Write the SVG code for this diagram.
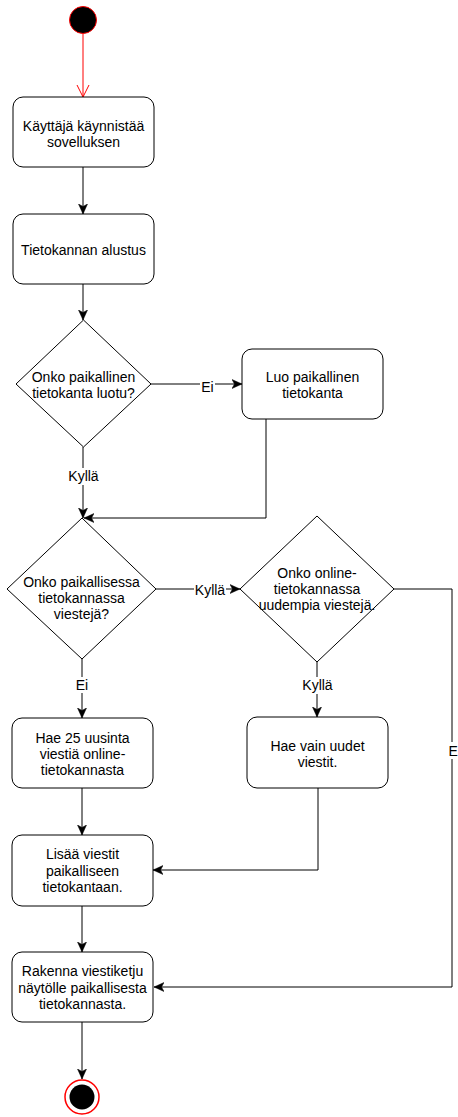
<svg xmlns="http://www.w3.org/2000/svg" width="458" height="1117" viewBox="0 0 458 1117">
<style>
.n{fill:#fff;stroke:#000;stroke-width:1}
.t{font-family:"Liberation Sans",Arial,sans-serif;font-size:14px;fill:#000;text-anchor:middle}
.e{fill:none;stroke:#000;stroke-width:1}
.lb{fill:#fff}
</style>
<defs>
<marker id="a" markerUnits="userSpaceOnUse" markerWidth="12" markerHeight="10" refX="10" refY="5" orient="auto">
<path d="M0,0.5 L10,5 L0,9.5 L2.5,5 z" fill="#000" stroke="#000" stroke-width="0.5"/>
</marker>
<marker id="o" markerUnits="userSpaceOnUse" markerWidth="14" markerHeight="14" refX="12" refY="7" orient="auto">
<path d="M0,1 L12,7 L0,13" fill="none" stroke="#ff0000" stroke-width="1"/>
</marker>
</defs>
<g id="connectors">
<path d="M83,34 V97" fill="none" stroke="#ff0000" stroke-width="1" marker-end="url(#o)"/>
<path class="e" d="M83,167 V214" marker-end="url(#a)"/>
<path class="e" d="M83,284 V320" marker-end="url(#a)"/>
<path class="e" d="M151,384 H242" marker-end="url(#a)"/>
<rect class="lb" x="200" y="379" width="15" height="15"/>
<text class="t" x="207.5" y="392">Ei</text>
<path class="e" d="M83,447 V518" marker-end="url(#a)"/>
<rect class="lb" x="67" y="468" width="33" height="17"/>
<text class="t" x="83.5" y="481">Kyllä</text>
<path class="e" d="M266,419 V518 H84" marker-end="url(#a)"/>
<path class="e" d="M156,589 H240" marker-end="url(#a)"/>
<rect class="lb" x="194" y="582" width="32" height="16"/>
<text class="t" x="210" y="595">Kyllä</text>
<path class="e" d="M394,589 H452 V987 H154" marker-end="url(#a)"/>
<rect class="lb" x="447" y="742" width="11" height="17"/>
<text class="t" x="448.5" y="756" style="text-anchor:start">Ei</text>
<path class="e" d="M82,659 V718" marker-end="url(#a)"/>
<rect class="lb" x="74" y="677" width="16" height="16"/>
<text class="t" x="82" y="690">Ei</text>
<path class="e" d="M317,662 V717" marker-end="url(#a)"/>
<rect class="lb" x="301" y="677" width="33" height="17"/>
<text class="t" x="317.5" y="690">Kyllä</text>
<path class="e" d="M82,788 V835" marker-end="url(#a)"/>
<path class="e" d="M318,788 V870 H153" marker-end="url(#a)"/>
<path class="e" d="M82,906 V952" marker-end="url(#a)"/>
<path class="e" d="M82,1022 V1079" marker-end="url(#a)"/>
</g>
<g id="start">
<circle cx="83" cy="20" r="13.5" fill="#000" stroke="#ff0000" stroke-width="1"/>
</g>
<g id="n1">
<rect class="n" x="13" y="97" width="141" height="70" rx="10"/>
<text class="t" x="83.5" y="131">Käyttäjä käynnistää</text>
<text class="t" x="83.5" y="147">sovelluksen</text>
</g>
<g id="n2">
<rect class="n" x="13" y="214" width="141" height="70" rx="10"/>
<text class="t" x="83.5" y="255">Tietokannan alustus</text>
</g>
<g id="d1">
<polygon class="n" points="83.5,320 151,384 83.5,447 16,384"/>
<text class="t" x="83.5" y="382">Onko paikallinen</text>
<text class="t" x="83.5" y="398">tietokanta luotu?</text>
</g>
<g id="n3">
<rect class="n" x="242" y="349" width="141" height="70" rx="10"/>
<text class="t" x="312.5" y="382">Luo paikallinen</text>
<text class="t" x="312.5" y="398">tietokanta</text>
</g>
<g id="d2">
<polygon class="n" points="82,518 156,589 82,659 7,589"/>
<text class="t" x="81.5" y="587">Onko paikallisessa</text>
<text class="t" x="81.5" y="603">tietokannassa</text>
<text class="t" x="81.5" y="619">viestejä?</text>
</g>
<g id="d3">
<polygon class="n" points="317,516 394,589 317,662 240,589"/>
<text class="t" x="317" y="578">Onko online-</text>
<text class="t" x="317" y="594">tietokannassa</text>
<text class="t" x="317" y="610">uudempia viestejä.</text>
</g>
<g id="n4">
<rect class="n" x="12" y="718" width="141" height="70" rx="10"/>
<text class="t" x="82.5" y="743">Hae 25 uusinta</text>
<text class="t" x="82.5" y="759">viestiä online-</text>
<text class="t" x="82.5" y="775">tietokannasta</text>
</g>
<g id="n6">
<rect class="n" x="247" y="717" width="141" height="71" rx="10"/>
<text class="t" x="317.5" y="751">Hae vain uudet</text>
<text class="t" x="317.5" y="767">viestit.</text>
</g>
<g id="n5">
<rect class="n" x="12" y="835" width="141" height="71" rx="10"/>
<text class="t" x="82.5" y="859">Lisää viestit</text>
<text class="t" x="82.5" y="876">paikalliseen</text>
<text class="t" x="82.5" y="892">tietokantaan.</text>
</g>
<g id="n7">
<rect class="n" x="12" y="952" width="141" height="70" rx="10"/>
<text class="t" x="82.5" y="976">Rakenna viestiketju</text>
<text class="t" x="82.5" y="993">näytölle paikallisesta</text>
<text class="t" x="82.5" y="1009">tietokannasta.</text>
</g>
<g id="end">
<circle cx="82" cy="1097" r="17" fill="#fff" stroke="#ff0000" stroke-width="1.5"/>
<circle cx="82" cy="1097" r="12.5" fill="#000"/>
</g>
</svg>
